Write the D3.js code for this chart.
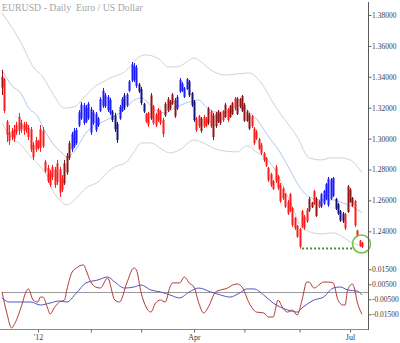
<!DOCTYPE html>
<html>
<head>
<meta charset="utf-8">
<script src="https://cdn.jsdelivr.net/npm/d3@7"></script>
<style>
  html, body { margin: 0; padding: 0; background: #fff; }
  svg { display: block; }
</style>
</head>
<body>
<svg id="chart" width="400" height="343"></svg>
<script>
// EUR/USD daily bars, one per weekday session from 12 Dec 2011 to 9 Jul 2012
const firstSession = "2011-12-12";
const lastSession = "2012-07-09";

const open = [
  1.3330,1.3385,1.3110,1.3040,1.3050,1.3060,1.3090,1.3140,1.3100,1.3090,
  1.3095,1.3070,1.3060,1.2960,1.2990,1.2985,1.3060,1.3050,1.2850,1.2810,
  1.2780,1.2815,1.2800,1.2840,1.2800,1.2740,1.2710,1.2780,1.2875,1.2930,
  1.2950,1.2970,1.3085,1.3130,1.3100,1.3110,1.3130,1.3040,1.3100,1.3055,
  1.3085,1.3180,1.3210,1.3210,1.3185,1.3165,1.3175,1.3150,1.3095,1.3130,
  1.3180,1.3280,1.3215,1.3310,1.3375,1.3380,1.3340,1.3350,1.3320,1.3225,
  1.3160,1.3165,1.3130,1.3210,1.3155,1.3190,1.3175,1.3120,1.3150,1.3180,
  1.3195,1.3225,1.3145,1.3195,1.3305,1.3310,1.3270,1.3320,1.3370,1.3295,
  1.3240,1.3130,1.3145,1.3050,1.3140,1.3130,1.3100,1.3175,1.3010,1.3080,
  1.3110,1.3100,1.3175,1.3140,1.3190,1.3140,1.3160,1.3260,1.3160,1.3205,
  1.3180,1.3115,1.3115,1.3065,1.3145,1.3065,1.3045,1.2995,1.2960,1.2905,
  1.2875,1.2810,1.2770,1.2725,1.2815,1.2755,1.2700,1.2675,1.2640,1.2590,
  1.2640,1.2550,1.2485,1.2435,1.2415,1.2530,1.2495,1.2540,1.2535,1.2555,
  1.2660,1.2500,1.2595,1.2560,1.2580,1.2610,1.2570,1.2610,1.2630,1.2610,
  1.2575,1.2530,1.2515,1.2510,1.2525,1.2590,1.2565,1.2595,1.2405,1.2340,1.2325
];
const high = [
  1.3444,1.3392,1.3121,1.3088,1.3069,1.3088,1.3108,1.3166,1.3121,1.3108,
  1.3108,1.3088,1.3075,1.2978,1.3011,1.2991,1.3088,1.3075,1.2862,1.2830,
  1.2797,1.2830,1.2817,1.2862,1.2817,1.2765,1.2862,1.2907,1.2985,1.3043,
  1.3069,1.3069,1.3185,1.3237,1.3231,1.3218,1.3237,1.3205,1.3185,1.3172,
  1.3140,1.3269,1.3328,1.3295,1.3282,1.3263,1.3185,1.3166,1.3108,1.3218,
  1.3269,1.3295,1.3295,1.3379,1.3496,1.3489,1.3476,1.3360,1.3334,1.3231,
  1.3166,1.3172,1.3295,1.3218,1.3166,1.3198,1.3185,1.3134,1.3237,1.3269,
  1.3250,1.3295,1.3263,1.3282,1.3392,1.3366,1.3334,1.3392,1.3379,1.3302,
  1.3250,1.3140,1.3153,1.3140,1.3153,1.3140,1.3205,1.3185,1.3166,1.3172,
  1.3185,1.3172,1.3185,1.3231,1.3198,1.3218,1.3237,1.3269,1.3269,1.3263,
  1.3282,1.3231,1.3185,1.3166,1.3153,1.3075,1.3056,1.3004,1.2972,1.2914,
  1.2881,1.2817,1.2778,1.2732,1.2830,1.2765,1.2713,1.2687,1.2648,1.2603,
  1.2648,1.2558,1.2493,1.2441,1.2422,1.2538,1.2506,1.2551,1.2622,1.2590,
  1.2668,1.2622,1.2603,1.2648,1.2668,1.2713,1.2752,1.2745,1.2752,1.2616,
  1.2584,1.2538,1.2525,1.2519,1.2700,1.2681,1.2622,1.2603,1.2409,1.2344,1.2331
];
const low = [
  1.3282,1.3166,1.2978,1.2959,1.2991,1.2978,1.3024,1.3024,1.3037,1.3024,
  1.3037,1.2991,1.2914,1.2862,1.2914,1.2927,1.2914,1.2939,1.2778,1.2713,
  1.2687,1.2732,1.2681,1.2700,1.2622,1.2655,1.2700,1.2765,1.2862,1.2914,
  1.2939,1.2959,1.3075,1.3121,1.3088,1.3101,1.3121,1.3024,1.3088,1.3043,
  1.3075,1.3172,1.3198,1.3198,1.3172,1.3153,1.3108,1.3043,1.2972,1.3121,
  1.3172,1.3185,1.3205,1.3302,1.3366,1.3366,1.3328,1.3295,1.3218,1.3166,
  1.3101,1.3075,1.3121,1.3088,1.3075,1.3108,1.3088,1.3011,1.3140,1.3172,
  1.3185,1.3218,1.3134,1.3185,1.3295,1.3302,1.3263,1.3315,1.3269,1.3205,
  1.3108,1.3043,1.3069,1.3037,1.3069,1.3075,1.3088,1.3069,1.2991,1.3069,
  1.3101,1.3088,1.3108,1.3134,1.3108,1.3134,1.3153,1.3185,1.3153,1.3198,
  1.3172,1.3108,1.3108,1.3056,1.3069,1.2959,1.2991,1.2927,1.2894,1.2849,
  1.2817,1.2719,1.2687,1.2668,1.2713,1.2668,1.2584,1.2603,1.2551,1.2506,
  1.2525,1.2428,1.2409,1.2357,1.2288,1.2422,1.2409,1.2454,1.2525,1.2551,
  1.2571,1.2493,1.2551,1.2551,1.2571,1.2603,1.2558,1.2603,1.2622,1.2538,
  1.2506,1.2461,1.2454,1.2409,1.2519,1.2584,1.2558,1.2428,1.2363,1.2299,1.2292
];
const close = [
  1.3400,1.3180,1.3025,1.2985,1.3010,1.3000,1.3040,1.3050,1.3060,1.3050,
  1.3060,1.3010,1.2930,1.2880,1.2930,1.2940,1.2940,1.2950,1.2790,1.2725,
  1.2700,1.2750,1.2700,1.2720,1.2650,1.2670,1.2840,1.2890,1.2970,1.3030,
  1.3050,1.3055,1.3170,1.3220,1.3215,1.3200,1.3225,1.3190,1.3170,1.3160,
  1.3130,1.3255,1.3310,1.3280,1.3270,1.3250,1.3120,1.3060,1.2990,1.3205,
  1.3255,1.3200,1.3285,1.3370,1.3480,1.3470,1.3460,1.3305,1.3230,1.3175,
  1.3110,1.3090,1.3280,1.3100,1.3085,1.3120,1.3100,1.3030,1.3225,1.3255,
  1.3240,1.3285,1.3250,1.3270,1.3380,1.3355,1.3325,1.3385,1.3280,1.3215,
  1.3120,1.3055,1.3080,1.3130,1.3080,1.3085,1.3195,1.3080,1.3150,1.3160,
  1.3175,1.3165,1.3120,1.3220,1.3120,1.3210,1.3230,1.3195,1.3260,1.3255,
  1.3275,1.3220,1.3175,1.3155,1.3080,1.2970,1.3000,1.2935,1.2905,1.2860,
  1.2825,1.2730,1.2700,1.2675,1.2725,1.2680,1.2595,1.2615,1.2560,1.2515,
  1.2535,1.2440,1.2420,1.2365,1.2300,1.2430,1.2420,1.2465,1.2610,1.2585,
  1.2580,1.2610,1.2560,1.2640,1.2660,1.2705,1.2740,1.2735,1.2745,1.2545,
  1.2515,1.2470,1.2465,1.2420,1.2690,1.2670,1.2615,1.2440,1.2370,1.2305,1.2300
];

// trend state: [first bar of the run, state]
const trendRuns = [[0, "down"], [29, "up"], [60, "down"], [73, "up"], [81, "down"], [133, "up"], [143, "down"]];

// price envelope, sampled at bar indices
const upperAt = [0,8,13,17,21,26,30,34,38,42,46,51,54,57,60,66,69,73,77,80,83,87,93,103,108,113,117,123,128,133,137,141,145,150];
const upperBand = [1.3813,1.3619,1.3464,1.3399,1.3295,1.3198,1.3205,1.3263,1.3328,1.3366,1.3399,1.3431,1.3476,1.3528,1.3541,1.3509,1.3464,1.3464,1.3496,1.3522,1.3496,1.3444,1.3412,1.3425,1.3360,1.3231,1.3140,1.3011,1.2875,1.2862,1.2875,1.2875,1.2862,1.2778];
const midAt = [0,4,8,11,15,17,21,25,27,30,35,41,46,51,55,58,64,68,72,78,82,85,89,94,99,101,103,107,110,116,120,124,128,133,138,142,146,150];
const midLine = [1.3444,1.3345,1.3290,1.3200,1.3140,1.3075,1.2972,1.2907,1.2881,1.2914,1.3037,1.3101,1.3140,1.3185,1.3250,1.3263,1.3185,1.3166,1.3198,1.3237,1.3250,1.3205,1.3172,1.3172,1.3192,1.3198,1.3172,1.3108,1.3037,1.2907,1.2797,1.2687,1.2622,1.2603,1.2603,1.2584,1.2558,1.2519];
const lowerAt = [0,3,8,12,16,19,21,24,27,31,35,40,44,47,52,55,58,62,67,70,74,80,83,90,98,102,106,110,116,121,125,133,138,142,146,150];
const lowerBand = [1.3101,1.3024,1.2959,1.2881,1.2817,1.2752,1.2668,1.2603,1.2571,1.2616,1.2681,1.2719,1.2784,1.2817,1.2849,1.2914,1.2972,1.2972,1.2927,1.2907,1.2927,1.2991,1.2978,1.2927,1.2914,1.2953,1.2914,1.2875,1.2732,1.2558,1.2422,1.2383,1.2390,1.2363,1.2325,1.2305];

// oscillator pair, sampled at bar indices
const fastAt = [0,2,4,5,8,10,11,13,15,16,17,19,20,22,24,26,27,29,31,34,35,37,39,41,44,47,49,52,55,56,58,60,62,64,66,68,70,71,74,76,78,80,82,84,86,89,91,94,96,98,100,103,106,109,111,113,115,117,119,121,123,125,127,128,130,134,136,138,140,142,143,144,146,147,148,149,150];
const fastOsc = [0.0000,-0.0141,-0.0241,-0.0221,-0.0101,-0.0001,0.0019,-0.0055,-0.0068,-0.0035,-0.0035,-0.0108,-0.0148,-0.0101,-0.0068,-0.0055,0.0012,0.0125,0.0159,0.0179,0.0145,0.0065,0.0032,0.0025,0.0092,-0.0055,-0.0068,0.0059,0.0159,0.0145,-0.0008,-0.0101,-0.0135,-0.0075,-0.0055,-0.0068,0.0032,0.0059,0.0059,0.0099,0.0059,0.0032,-0.0075,-0.0141,-0.0101,-0.0001,0.0012,0.0025,0.0045,0.0052,0.0032,-0.0075,-0.0135,-0.0141,-0.0168,-0.0168,-0.0055,-0.0108,-0.0135,-0.0121,-0.0155,-0.0055,0.0065,0.0065,0.0025,0.0065,0.0065,0.0059,-0.0055,-0.0088,-0.0088,0.0012,0.0052,0.0012,-0.0068,-0.0115,-0.0150];
const slowAt = [0,3,8,12,16,20,24,27,31,35,40,44,47,51,55,58,62,66,70,74,78,82,87,91,95,99,102,105,109,113,119,123,125,130,134,138,141,144,148,150];
const slowOsc = [-0.0041,-0.0068,-0.0068,-0.0068,-0.0088,-0.0075,-0.0061,-0.0068,-0.0008,0.0059,0.0079,0.0099,0.0065,0.0025,0.0032,0.0045,0.0012,-0.0001,-0.0021,-0.0041,-0.0001,0.0025,-0.0001,-0.0021,-0.0035,-0.0008,0.0019,0.0019,-0.0021,-0.0075,-0.0121,-0.0135,-0.0108,-0.0055,-0.0035,0.0025,0.0032,0.0012,0.0005,-0.0021];

// axis ticks
const priceTicks = [1.24, 1.26, 1.28, 1.30, 1.32, 1.34, 1.36, 1.38];
const oscTicks = [-0.015, -0.005, 0.005, 0.015];
const monthLabels = ["'12", "", "", "Apr", "", "", "Jul"];

// support level: the 1 June low, projected forward to 4 July
const supportFrom = 124, supportTo = 147;

// ---------------------------------------------------------------
const svg = d3.select("#chart");
const axisX = 368.5;
const serif = "'Liberation Serif', 'DejaVu Serif', serif";
const fmt5 = d3.formatLocale({ decimal: ".", thousands: ",", grouping: [3], currency: ["", ""], minus: "-" }).format(".5f");

const sessions = d3.utcDay.range(new Date(firstSession + "T00:00:00Z"), new Date(lastSession + "T23:00:00Z"))
  .filter(d => d.getUTCDay() !== 0 && d.getUTCDay() !== 6);
const n = open.length;

const x = d3.scaleLinear().domain([0, n - 1]).range([2, 362]);
const y = d3.scaleLinear().domain([1.24, 1.38]).range([231.3, 15]);
const yo = d3.scaleLinear().domain([-0.015, 0.015]).range([314.3, 269.3]);

const trendAt = i => {
  let s = trendRuns[0][1];
  for (const [start, state] of trendRuns) if (i >= start) s = state;
  return s;
};
const tone = i => {
  const up = close[i] >= open[i];
  if (trendAt(i) === "down") return up ? "#8e1616" : "#ff1c1c";
  return up ? "#1c1cff" : "#14147e";
};

svg.append("defs").append("clipPath").attr("id", "plotClip")
  .append("rect").attr("x", 0).attr("y", 0).attr("width", axisX).attr("height", 330);

// title
svg.append("text")
  .attr("x", 2).attr("y", 10.5)
  .attr("font-family", serif).attr("font-size", 9.8)
  .attr("fill", "#a6a6a6")
  .style("white-space", "pre")
  .text("EURUSD - Daily  Euro / US Dollar");

// envelope
const main = svg.append("g").attr("clip-path", "url(#plotClip)");
const bandLine = (at, vals) => d3.line()
  .x((d, k) => x(at[k])).y(d => y(d))
  .curve(d3.curveMonotoneX)(vals);

main.append("path").attr("d", bandLine(upperAt, upperBand))
  .attr("fill", "none").attr("stroke", "#d2d2d2").attr("stroke-width", 1);
main.append("path").attr("d", bandLine(lowerAt, lowerBand))
  .attr("fill", "none").attr("stroke", "#d2d2d2").attr("stroke-width", 1);
main.append("path").attr("d", bandLine(midAt, midLine))
  .attr("fill", "none").attr("stroke", "#abc9ee").attr("stroke-width", 1);

// bars: open-close body plus high-low stroke
const bars = main.append("g").selectAll("g").data(d3.range(n)).join("g");
bars.append("rect")
  .attr("x", i => Math.round(x(i)) - 1)
  .attr("width", 3)
  .attr("y", i => y(Math.max(open[i], close[i])))
  .attr("height", i => Math.max(1, Math.abs(y(open[i]) - y(close[i]))))
  .attr("fill", tone)
  .attr("fill-opacity", 0.5);
bars.append("line")
  .attr("x1", i => Math.round(x(i)) + 0.5)
  .attr("x2", i => Math.round(x(i)) + 0.5)
  .attr("y1", i => y(high[i]))
  .attr("y2", i => y(low[i]))
  .attr("stroke", tone)
  .attr("stroke-width", 1);

// support level
main.append("line")
  .attr("x1", x(supportFrom) + 2.5).attr("x2", x(supportTo))
  .attr("y1", y(low[supportFrom])).attr("y2", y(low[supportFrom]))
  .attr("stroke", "#4f8a2c").attr("stroke-width", 2)
  .attr("stroke-dasharray", "2,2");

// oscillator panel
main.append("line")
  .attr("x1", 2).attr("x2", axisX)
  .attr("y1", Math.round(yo(0)) + 0.5).attr("y2", Math.round(yo(0)) + 0.5)
  .attr("stroke", "#9a9a9a").attr("stroke-width", 1);

const oscLine = (at, vals) => d3.line()
  .x((d, k) => x(at[k])).y(d => yo(d))
  .curve(d3.curveMonotoneX)(vals);
main.append("path").attr("d", oscLine(slowAt, slowOsc))
  .attr("fill", "none").attr("stroke", "#5454c4").attr("stroke-width", 1);
main.append("path").attr("d", oscLine(fastAt, fastOsc))
  .attr("fill", "none").attr("stroke", "#b23a3a").attr("stroke-width", 1);

// highlight around the last two sessions
const lastTwo = [n - 2, n - 1];
svg.append("circle")
  .attr("cx", d3.mean(lastTwo, i => x(i)) + 0.7)
  .attr("cy", y((d3.max(lastTwo, i => high[i]) + d3.min(lastTwo, i => low[i])) / 2))
  .attr("r", 9)
  .attr("fill", "none")
  .attr("stroke", "#78bf4a")
  .attr("stroke-width", 1.6);

// axes
const styleAxis = g => {
  g.select(".domain").remove();
  g.selectAll(".tick line").attr("stroke", "#666");
  g.selectAll(".tick text").attr("font-family", serif).attr("font-size", 7.5).attr("fill", "#3c3c3c");
};

svg.append("g")
  .attr("transform", `translate(${axisX},0)`)
  .call(d3.axisRight(y).tickValues(priceTicks).tickSize(3).tickPadding(0.5).tickFormat(fmt5))
  .call(styleAxis);

svg.append("g")
  .attr("transform", `translate(${axisX},0)`)
  .call(d3.axisRight(yo).tickValues(oscTicks).tickSize(3).tickPadding(0.5).tickFormat(fmt5))
  .call(styleAxis);

const monthStarts = d3.range(1, n).filter(i => sessions[i].getUTCMonth() !== sessions[i - 1].getUTCMonth());
svg.append("g")
  .attr("transform", "translate(0,329.5)")
  .call(d3.axisBottom(x).tickValues(monthStarts).tickSize(3).tickPadding(2)
    .tickFormat((d, k) => monthLabels[k]))
  .call(styleAxis)
  .call(g => g.selectAll(".tick text").attr("font-size", 8));

// frame lines
svg.append("line")
  .attr("x1", 0).attr("x2", axisX).attr("y1", 329.5).attr("y2", 329.5)
  .attr("stroke", "#8a8a8a").attr("stroke-width", 1);
svg.append("line")
  .attr("x1", axisX).attr("x2", axisX).attr("y1", 2).attr("y2", 330)
  .attr("stroke", "#5a5a5a").attr("stroke-width", 1);
</script>
</body>
</html>
